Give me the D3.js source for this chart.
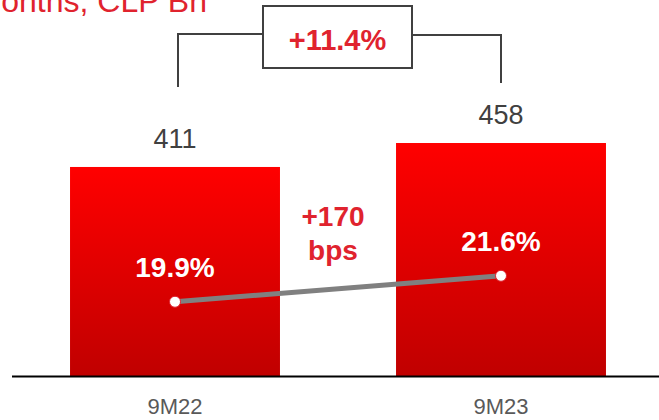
<!DOCTYPE html>
<html>
<head>
<meta charset="utf-8">
<script src="https://cdn.jsdelivr.net/npm/d3@7"></script>
<style>
  html, body { margin: 0; padding: 0; background: #fff; }
  svg { display: block; font-family: Arial, "Liberation Sans", sans-serif; }
</style>
</head>
<body>
<svg id="chart" width="659" height="420"></svg>
<script>
// Net income, CLP Bn, and return (margin) for each period
const categories = ["9M22", "9M23"];
const incomeValues = [411, 458];
const marginValues = [19.9, 21.6];
const marginLabels = ["19.9%", "21.6%"];
const growthLabel = "+11.4%";
const deltaLabel = ["+170", "bps"];
const titleText = "9 months, CLP Bn";

const red = "#e0232e";
const svg = d3.select("#chart");

// Scales
const x = d3.scaleBand().domain(categories).range([12, 664])
  .paddingInner(0.356).paddingOuter(0.178);
const y = d3.scaleLinear().domain([0, 500]).range([376.5, 121.6]);
const yMargin = d3.scaleLinear().domain([18, 24]).range([330.8, 239.1]);
const cx = c => x(c) + x.bandwidth() / 2;

// Vertical red gradient for bars
const defs = svg.append("defs");
const grad = defs.append("linearGradient").attr("id", "barGrad")
  .attr("x1", 0).attr("y1", 0).attr("x2", 0).attr("y2", 1);
grad.append("stop").attr("offset", "0%").attr("stop-color", "#ff0000");
grad.append("stop").attr("offset", "100%").attr("stop-color", "#c00000");

// Title (runs off the left edge of the panel)
svg.append("text").attr("x", 207).attr("y", 12).attr("text-anchor", "end")
  .style("font-size", "32px").attr("fill", red).text(titleText);

// Bars
svg.selectAll("rect.bar").data(incomeValues).join("rect").attr("class", "bar")
  .attr("x", (d, i) => x(categories[i]))
  .attr("y", d => y(d))
  .attr("width", x.bandwidth())
  .attr("height", d => y(0) - y(d))
  .attr("fill", "url(#barGrad)");

// Value labels above bars
svg.selectAll("text.val").data(incomeValues).join("text").attr("class", "val")
  .attr("x", (d, i) => cx(categories[i]))
  .attr("y", d => y(d) - 19)
  .attr("text-anchor", "middle").style("font-size", "27px").attr("fill", "#404040")
  .text(d => d);

// Baseline axis
const xAxis = d3.axisBottom(x).tickSize(0).tickPadding(22);
const ax = svg.append("g").attr("transform", `translate(0,${y(0)})`).call(xAxis);
ax.select(".domain").attr("d", "M12,0H659").attr("stroke", "#000").attr("stroke-width", 2);
ax.selectAll(".tick text").style("font-size", "22px").attr("fill", "#595959")
  .style("font-family", "Arial, 'Liberation Sans', sans-serif");

// Growth bracket with boxed label
const xl = cx(categories[0]) + 3, xr = cx(categories[1]);
const bracket = svg.append("g").attr("fill", "none").attr("stroke", "#404040").attr("stroke-width", 2);
bracket.append("path").attr("d", `M${xl},${y(incomeValues[0]) - 80}V34H263`);
bracket.append("path").attr("d", `M412,35H${xr}V${y(incomeValues[1]) - 60}`);
svg.append("rect").attr("x", 263).attr("y", 6).attr("width", 149).attr("height", 62)
  .attr("fill", "#fff").attr("stroke", "#404040").attr("stroke-width", 2);
svg.append("text").attr("x", 337.5).attr("y", 50).attr("text-anchor", "middle")
  .style("font-size", "29px").attr("font-weight", "bold").attr("fill", red).text(growthLabel);

// Margin line
const line = d3.line().x((d, i) => cx(categories[i])).y(d => yMargin(d));
svg.append("path").datum(marginValues).attr("d", line)
  .attr("fill", "none").attr("stroke", "#808080").attr("stroke-width", 5);
svg.selectAll("circle.pt").data(marginValues).join("circle").attr("class", "pt")
  .attr("cx", (d, i) => cx(categories[i])).attr("cy", d => yMargin(d))
  .attr("r", 5.5).attr("fill", "#fff").attr("stroke", "#e0202c").attr("stroke-width", 1);

// Margin labels
svg.selectAll("text.mlab").data(marginValues).join("text").attr("class", "mlab")
  .attr("x", (d, i) => cx(categories[i]))
  .attr("y", d => yMargin(d) - 25)
  .attr("text-anchor", "middle").style("font-size", "28px").attr("font-weight", "bold")
  .attr("fill", "#fff").text((d, i) => marginLabels[i]);

// Margin change annotation
svg.selectAll("text.delta").data(deltaLabel).join("text").attr("class", "delta")
  .attr("x", 333).attr("y", (d, i) => 226 + i * 34)
  .attr("text-anchor", "middle").style("font-size", "28px").attr("font-weight", "bold")
  .attr("fill", red).text(d => d);
</script>
</body>
</html>
